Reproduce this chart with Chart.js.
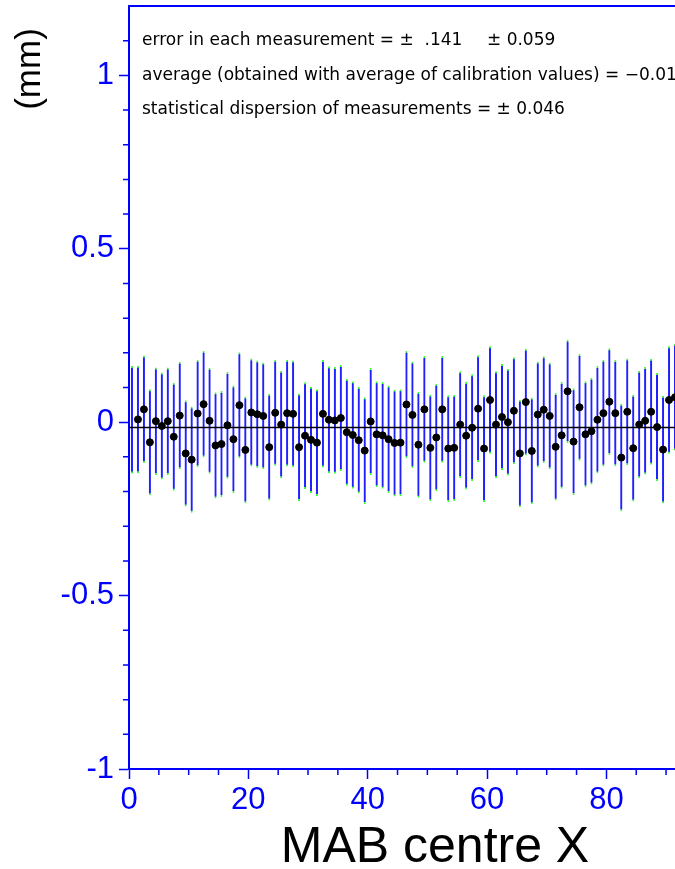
<!DOCTYPE html>
<html>
<head>
<meta charset="utf-8">
<script src="https://cdn.jsdelivr.net/npm/chart.js@4.4.1/dist/chart.umd.min.js"></script>
<style>
  html, body { margin: 0; padding: 0; background: #fff; }
  #wrap { width: 675px; height: 869px; }
</style>
</head>
<body>
<div id="wrap"><canvas id="chart" width="675" height="869"></canvas></div>
<script>
// MAB centre X of each measurement
const positions = [
  0.5, 1.5, 2.5, 3.5, 4.5, 5.5, 6.5, 7.5, 8.5, 9.5,
  10.5, 11.5, 12.5, 13.5, 14.5, 15.5, 16.5, 17.5, 18.5, 19.5,
  20.5, 21.5, 22.5, 23.5, 24.5, 25.5, 26.5, 27.5, 28.5, 29.5,
  30.5, 31.5, 32.5, 33.5, 34.5, 35.5, 36.5, 37.5, 38.5, 39.5,
  40.5, 41.5, 42.5, 43.5, 44.5, 45.5, 46.5, 47.5, 48.5, 49.5,
  50.5, 51.5, 52.5, 53.5, 54.5, 55.5, 56.5, 57.5, 58.5, 59.5,
  60.5, 61.5, 62.5, 63.5, 64.5, 65.5, 66.5, 67.5, 68.5, 69.5,
  70.5, 71.5, 72.5, 73.5, 74.5, 75.5, 76.5, 77.5, 78.5, 79.5,
  80.5, 81.5, 82.5, 83.5, 84.5, 85.5, 86.5, 87.5, 88.5, 89.5,
  90.5, 91.5
];

// measured deviation (mm)
const values = [
  0.007, 0.008, 0.037, -0.058, 0.003, -0.011, 0.003, -0.042, 0.019, -0.090,
  -0.108, 0.025, 0.052, 0.004, -0.067, -0.063, -0.009, -0.049, 0.049, -0.080,
  0.028, 0.023, 0.018, -0.072, 0.027, -0.007, 0.026, 0.024, -0.072, -0.039,
  -0.051, -0.059, 0.024, 0.007, 0.005, 0.012, -0.029, -0.037, -0.052, -0.082,
  0.002, -0.035, -0.038, -0.049, -0.060, -0.059, 0.051, 0.021, -0.065, 0.037,
  -0.074, -0.044, 0.037, -0.076, -0.074, -0.007, -0.039, -0.016, 0.039, -0.076,
  0.064, -0.007, 0.015, 0.000, 0.033, -0.090, 0.058, -0.083, 0.022, 0.036,
  0.018, -0.071, -0.038, 0.089, -0.056, 0.043, -0.035, -0.026, 0.007, 0.026,
  0.059, 0.026, -0.102, 0.030, -0.075, -0.007, 0.004, 0.030, -0.014, -0.079,
  0.064, 0.072
];

// error of each measurement (mm)
const errors = [
  0.154, 0.154, 0.154, 0.152, 0.154, 0.153, 0.154, 0.155, 0.154, 0.152,
  0.152, 0.154, 0.153, 0.152, 0.152, 0.152, 0.153, 0.154, 0.152, 0.153,
  0.155, 0.154, 0.153, 0.153, 0.152, 0.154, 0.153, 0.153, 0.154, 0.153,
  0.152, 0.153, 0.154, 0.153, 0.153, 0.152, 0.153, 0.154, 0.153, 0.153,
  0.153, 0.152, 0.153, 0.154, 0.153, 0.153, 0.154, 0.153, 0.152, 0.153,
  0.153, 0.154, 0.153, 0.153, 0.152, 0.153, 0.154, 0.153, 0.153, 0.153,
  0.154, 0.153, 0.152, 0.153, 0.153, 0.154, 0.153, 0.153, 0.152, 0.153,
  0.153, 0.154, 0.153, 0.148, 0.153, 0.153, 0.152, 0.153, 0.154, 0.153,
  0.153, 0.152, 0.154, 0.153, 0.153, 0.154, 0.154, 0.152, 0.155, 0.154,
  0.154, 0.153
];

const averageValue = -0.015;
const averageSpan = [0, 91.5];

const xTicks = [0, 20, 40, 60, 80];
const xMinorTicks = [5, 10, 15, 25, 30, 35, 45, 50, 55, 65, 70, 75, 85, 90];
const yTicks = [-1, -0.5, 0, 0.5, 1];
const yMinorTicks = [-0.9, -0.8, -0.7, -0.6, -0.4, -0.3, -0.2, -0.1, 0.1, 0.2, 0.3, 0.4, 0.6, 0.7, 0.8, 0.9, 1.1];

const notes = [
  'error in each measurement = \u00b1  .141',
  'average (obtained with average of calibration values) = \u22120.012',
  'statistical dispersion of measurements = \u00b1 0.046'
];
const noteExtra = '\u00b1 0.059';
const noteRows = [1.1, 1.0, 0.9];

const blue = '#0000ff';

// minor ticks, notes and axis titles
const decorations = {
  id: 'decorations',
  afterDraw(chart) {
    const { ctx, chartArea: a, scales: { x, y } } = chart;
    ctx.save();
    ctx.strokeStyle = blue;
    ctx.lineWidth = 1.5;
    ctx.beginPath();
    yMinorTicks.forEach(v => {
      const py = y.getPixelForValue(v);
      ctx.moveTo(a.left - 6, py);
      ctx.lineTo(a.left, py);
    });
    xMinorTicks.forEach(v => {
      const px = x.getPixelForValue(v);
      ctx.moveTo(px, a.bottom);
      ctx.lineTo(px, a.bottom + 6);
    });
    ctx.stroke();

    ctx.fillStyle = '#000';
    ctx.font = '17px "DejaVu Sans"';
    ctx.textBaseline = 'middle';
    ctx.textAlign = 'left';
    notes.forEach((t, i) => ctx.fillText(t, a.left + 13, y.getPixelForValue(noteRows[i])));
    ctx.fillText(noteExtra, a.left + 358, y.getPixelForValue(noteRows[0]));

    ctx.font = '50px "Liberation Sans"';
    ctx.textAlign = 'center';
    ctx.textBaseline = 'alphabetic';
    ctx.fillText('MAB centre X', 435, 862);

    ctx.translate(30, 69);
    ctx.rotate(-Math.PI / 2);
    ctx.font = '35px "Liberation Sans"';
    ctx.textBaseline = 'middle';
    ctx.fillText('(mm)', 0, 0);
    ctx.restore();
  }
};

new Chart(document.getElementById('chart'), {
  type: 'scatter',
  data: {
    datasets: [
      {
        type: 'scatter',
        data: positions.map((x, i) => ({ x, y: i === 0 ? null : values[i] })),
        backgroundColor: '#000',
        borderColor: '#000',
        pointRadius: 3.5,
        pointHoverRadius: 3.5,
        order: 0
      },
      {
        type: 'line',
        data: averageSpan.map(x => ({ x, y: averageValue })),
        borderColor: '#000',
        borderWidth: 1.5,
        pointRadius: 0,
        order: 1
      },
      {
        type: 'bar',
        data: positions.map((x, i) => ({ x, y: [values[i] - errors[i], values[i] + errors[i]] })),
        backgroundColor: '#2020ff',
        borderColor: '#33ff33',
        borderWidth: { top: 2, bottom: 2, left: 0, right: 0 },
        borderSkipped: false,
        barThickness: 2,
        grouped: false,
        order: 2
      }
    ]
  },
  options: {
    responsive: false,
    animation: false,
    layout: { padding: 0, autoPadding: false },
    plugins: { legend: { display: false }, tooltip: { enabled: false } },
    scales: {
      x: {
        type: 'linear',
        position: 'bottom',
        min: 0,
        max: 91.5,
        offset: false,
        afterBuildTicks: s => { s.ticks = xTicks.map(v => ({ value: v })); },
        afterFit: s => { s.height = 100; s.paddingLeft = 0; s.paddingRight = 0; },
        ticks: { color: blue, font: { family: 'Liberation Sans', size: 31 }, padding: 3, maxRotation: 0 },
        grid: { drawOnChartArea: false, offset: false, tickLength: 10, tickColor: blue, tickWidth: 1.5 },
        border: { color: blue, width: 2 }
      },
      xTop: {
        type: 'linear',
        position: 'top',
        min: 0,
        max: 91.5,
        ticks: { display: false },
        afterFit: s => { s.height = 6; s.paddingLeft = 0; s.paddingRight = 0; },
        grid: { drawOnChartArea: false, drawTicks: false },
        border: { color: blue, width: 2 }
      },
      y: {
        type: 'linear',
        min: -1,
        max: 1.2,
        afterBuildTicks: s => { s.ticks = yTicks.map(v => ({ value: v })); },
        afterFit: s => { s.width = 129; s.paddingTop = 0; s.paddingBottom = 0; },
        ticks: { color: blue, font: { family: 'Liberation Sans', size: 31 }, padding: 5, callback: v => String(v) },
        grid: { drawOnChartArea: false, tickLength: 10, tickColor: blue, tickWidth: 1.5 },
        border: { color: blue, width: 2 }
      }
    }
  },
  plugins: [decorations]
});
</script>
</body>
</html>
